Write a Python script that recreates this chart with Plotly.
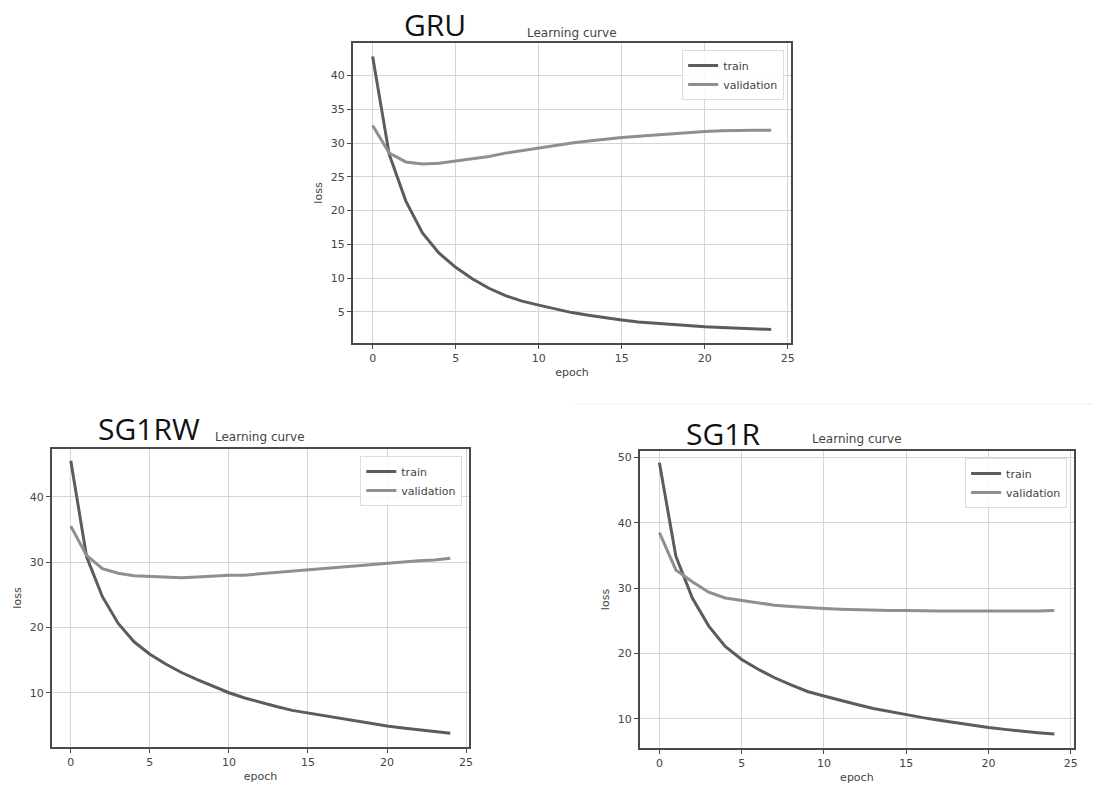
import plotly.graph_objects as go

epochs = list(range(25))

# GRU losses
gru_train = [42.8, 28.3, 21.4, 16.7, 13.7, 11.6, 9.9, 8.5, 7.4, 6.6, 6.0, 5.4, 4.9, 4.5, 4.1, 3.8, 3.5, 3.3, 3.1, 2.9, 2.8, 2.7, 2.6, 2.5, 2.4]
gru_val = [32.6, 28.5, 27.2, 26.9, 27.0, 27.3, 27.6, 28.0, 28.5, 28.9, 29.3, 29.7, 30.0, 30.3, 30.6, 30.8, 31.0, 31.2, 31.4, 31.6, 31.7, 31.8, 31.9, 31.9, 31.9]

# SG1RW losses
sg1rw_train = [45.5, 30.8, 24.7, 20.6, 17.8, 15.9, 14.4, 13.1, 12.0, 11.0, 10.0, 9.2, 8.5, 7.9, 7.3, 6.9, 6.4, 6.0, 5.6, 5.2, 4.9, 4.6, 4.3, 4.0, 3.8]
sg1rw_val = [35.5, 31.0, 29.0, 28.3, 27.9, 27.8, 27.8, 27.6, 27.7, 27.9, 28.0, 28.0, 28.2, 28.5, 28.6, 28.8, 29.0, 29.2, 29.4, 29.7, 29.8, 30.0, 30.2, 30.3, 30.6]

# SG1R losses
sg1r_train = [49.2, 34.9, 28.5, 24.2, 21.1, 19.1, 17.6, 16.3, 15.2, 14.2, 13.5, 12.8, 12.2, 11.6, 11.1, 10.7, 10.2, 9.8, 9.4, 9.0, 8.7, 8.4, 8.1, 7.9, 7.7]
sg1r_val = [38.5, 32.8, 31.0, 29.4, 28.5, 28.1, 27.7, 27.4, 27.2, 27.0, 26.9, 26.8, 26.7, 26.7, 26.6, 26.6, 26.5, 26.5, 26.5, 26.5, 26.4, 26.5, 26.5, 26.5, 26.6]

model_names = ["GRU", "SG1RW", "SG1R"]
x_ticks = [0, 5, 10, 15, 20, 25]
y_ticks = [[5, 10, 15, 20, 25, 30, 35, 40], [10, 20, 30, 40], [10, 20, 30, 40, 50]]

W, H = 1097, 785

TRAIN_COLOR = "#5c5c5c"
VAL_COLOR = "#8f8f8f"
GRID = "#d6d6d6"
FRAME = "#4a4a4a"
TICK_FONT = dict(family="DejaVu Sans", size=11, color="#444444")

# panel frames in pixels: left, right, top, bottom
panels = [
    dict(box=(354, 794, 43, 343), yr=(0.4, 44.8), train=gru_train, val=gru_val,
         name_xy=(437, 25), title_xy=(574, 33), legend_xy=(787, 50)),
    dict(box=(52, 471, 449, 747), yr=(1.7, 47.3), train=sg1rw_train, val=sg1rw_val,
         name_xy=(150, 428), title_xy=(261, 437), legend_xy=(464, 456)),
    dict(box=(642, 1078, 451, 748), yr=(5.55, 51.0), train=sg1r_train, val=sg1r_val,
         name_xy=(726, 433), title_xy=(860, 439), legend_xy=(1071, 458)),
]

fig = go.Figure()
annotations = []
layout_axes = {}

for i, p in enumerate(panels):
    n = "" if i == 0 else str(i + 1)
    leg = "legend" if i == 0 else f"legend{i + 1}"
    l, r, t, b = p["box"]
    fig.add_trace(go.Scatter(x=epochs, y=p["train"], mode="lines", name="train",
                             line=dict(color=TRAIN_COLOR, width=3),
                             xaxis=f"x{n}", yaxis=f"y{n}", legend=leg))
    fig.add_trace(go.Scatter(x=epochs, y=p["val"], mode="lines", name="validation",
                             line=dict(color=VAL_COLOR, width=3),
                             xaxis=f"x{n}", yaxis=f"y{n}", legend=leg))
    axis_common = dict(showline=True, linecolor=FRAME, linewidth=1.5, mirror=True,
                       showgrid=True, gridcolor=GRID, gridwidth=1.2, zeroline=False,
                       ticks="outside", ticklen=4, tickcolor=FRAME, tickfont=TICK_FONT)
    layout_axes[f"xaxis{n}"] = dict(
        domain=[l / W, r / W], range=[-1.2, 25.2], anchor=f"y{n}",
        tickvals=x_ticks, title=dict(text="epoch", font=dict(family="DejaVu Sans", size=11, color="#444444"), standoff=4),
        **axis_common)
    layout_axes[f"yaxis{n}"] = dict(
        domain=[1 - b / H, 1 - t / H], range=list(p["yr"]), anchor=f"x{n}",
        tickvals=y_ticks[i], title=dict(text="loss", font=dict(family="DejaVu Sans", size=11, color="#444444"), standoff=6),
        **axis_common)
    layout_axes[leg] = dict(
        x=p["legend_xy"][0] / W, y=1 - p["legend_xy"][1] / H, xanchor="right", yanchor="top",
        bgcolor="rgba(255,255,255,0.85)", bordercolor="#dddddd", borderwidth=1,
        font=dict(family="DejaVu Sans", size=11, color="#444444"), tracegroupgap=0,
        itemwidth=30)
    nx, ny = p["name_xy"]
    annotations.append(dict(text=model_names[i], x=nx / W, y=1 - ny / H, xref="paper", yref="paper",
                            showarrow=False, font=dict(family="Open Sans", size=30, color="#111111"),
                            xanchor="center", yanchor="middle"))
    tx, ty = p["title_xy"]
    annotations.append(dict(text="Learning curve", x=tx / W, y=1 - ty / H, xref="paper", yref="paper",
                            showarrow=False, font=dict(family="DejaVu Sans", size=12, color="#444444"),
                            xanchor="center", yanchor="middle"))

fig.update_layout(
    width=W, height=H, margin=dict(l=0, r=0, t=0, b=0),
    paper_bgcolor="white", plot_bgcolor="white",
    annotations=annotations,
    shapes=[dict(type="line", xref="paper", yref="paper", x0=577 / W, x1=1.0,
                 y0=1 - 404 / H, y1=1 - 404 / H, line=dict(color="#eeeeee", width=1))],
    **layout_axes,
)

fig.write_html("out.html")
